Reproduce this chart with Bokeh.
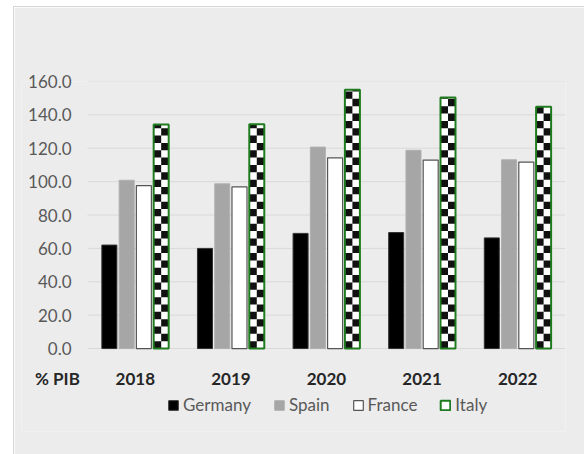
import numpy as np
from bokeh.plotting import figure
from bokeh.models import ColumnDataSource, Legend, LegendItem, FixedTicker
from bokeh.embed import file_html
from bokeh.resources import INLINE

# ---- data ----
years = ["2018", "2019", "2020", "2021", "2022"]
germany = [62.0, 60.0, 69.0, 69.5, 66.3]
spain = [100.8, 98.7, 120.7, 118.8, 113.1]
france = [97.6, 96.9, 114.3, 112.9, 111.7]
italy = [134.3, 134.4, 155.1, 150.4, 144.9]
y_ticks = [0, 20, 40, 60, 80, 100, 120, 140, 160]
unit_label = "% PIB"

FONT = "Lato"
BG = "#ececec"

xpos = np.arange(len(years), dtype=float)
offs = [-0.271, -0.090, 0.090, 0.271]
bw = 0.157
unit_x = -0.814   # position of the "% PIB" label, left of the first group
x_lo = -1.19      # room on the left for the value labels
y_floor = -49.7   # room under the zero line for labels and legend

p = figure(width=571, height=448, output_backend="svg", toolbar_location=None,
           x_range=(x_lo, len(years) - 0.5), y_range=(y_floor, 160),
           min_border_left=7, min_border_right=20, min_border_top=74, min_border_bottom=24)
p.margin = (6, 0, 0, 13)
p.styles = {"border-top": "1px solid #d6d6d6", "border-left": "1px solid #d6d6d6"}
p.border_fill_color = BG
p.background_fill_color = BG
p.outline_line_color = None

# horizontal gridlines across the category area only
p.segment(x0=[-0.5] * len(y_ticks), x1=[len(years) - 0.5] * len(y_ticks), y0=y_ticks, y1=y_ticks,
          line_color="#d9d9d9", line_width=1)

src = ColumnDataSource(dict(
    x_g=xpos + offs[0], x_s=xpos + offs[1], x_f=xpos + offs[2], x_i=xpos + offs[3],
    germany=germany, spain=spain, france=france, italy=italy))

r_g = p.vbar(x="x_g", top="germany", width=bw, source=src, fill_color="black", line_color="#333333")
r_s = p.vbar(x="x_s", top="spain", width=bw, source=src, fill_color="#a6a6a6", line_color="#b0b0b0")
r_f = p.vbar(x="x_f", top="france", width=bw, source=src, fill_color="white", line_color="#555555",
             line_width=1.2)
r_i = p.vbar(x="x_i", top="italy", width=bw, source=src, fill_color="white", line_color=None)

# checkerboard texture for Italy bars
cell_h = 4.4
L, R, B, T = [], [], [], []
for xi, v in zip(xpos + offs[3], italy):
    n = int(np.ceil(v / cell_h))
    for r in range(n):
        y0 = r * cell_h
        y1 = min((r + 1) * cell_h, v)
        if r % 2 == 0:
            L.append(xi - bw / 2); R.append(xi)
        else:
            L.append(xi); R.append(xi + bw / 2)
        B.append(y0); T.append(y1)
p.quad(left=L, right=R, bottom=B, top=T, fill_color="#111111", line_color=None)
r_io = p.vbar(x="x_i", top="italy", width=bw, source=src, fill_color=None, line_color="#1e7b1e",
              line_width=2)

# axes
p.xaxis.ticker = FixedTicker(ticks=[unit_x] + list(xpos))
overrides = {unit_x: unit_label}
for i, y in enumerate(years):
    overrides[float(i)] = y
    overrides[i] = y
p.xaxis.major_label_overrides = overrides
p.yaxis.ticker = FixedTicker(ticks=y_ticks)
p.yaxis.major_label_overrides = {t: f"{t:.1f}" for t in y_ticks}
for ax in (p.xaxis, p.yaxis):
    ax.axis_line_color = None
    ax.major_tick_line_color = None
    ax.minor_tick_line_color = None
    ax.major_label_text_font = FONT
p.yaxis.major_tick_out = 0
p.yaxis.major_label_text_font_size = "17px"
p.yaxis.major_label_text_color = "#595959"
p.yaxis.major_label_standoff = -50
p.xaxis.major_label_text_font_size = "17px"
p.xaxis.major_label_text_font_style = "bold"
p.xaxis.major_label_text_color = "#262626"
p.xaxis.major_label_standoff = -70
p.xgrid.visible = False
p.ygrid.visible = False

legend = Legend(items=[
    LegendItem(label="Germany", renderers=[r_g]),
    LegendItem(label="Spain", renderers=[r_s]),
    LegendItem(label="France", renderers=[r_f]),
    LegendItem(label="Italy", renderers=[r_i, r_io]),
], orientation="horizontal", location=(146, 16))
legend.background_fill_alpha = 0
legend.border_line_color = None
legend.padding = 0
legend.margin = 0
legend.spacing = 22
legend.glyph_width = 12
legend.glyph_height = 12
legend.label_standoff = 4
legend.label_text_font = FONT
legend.label_text_font_size = "17px"
legend.label_text_color = "#595959"
p.add_layout(legend, "center")

open("out.html", "w").write(file_html(p, INLINE))
